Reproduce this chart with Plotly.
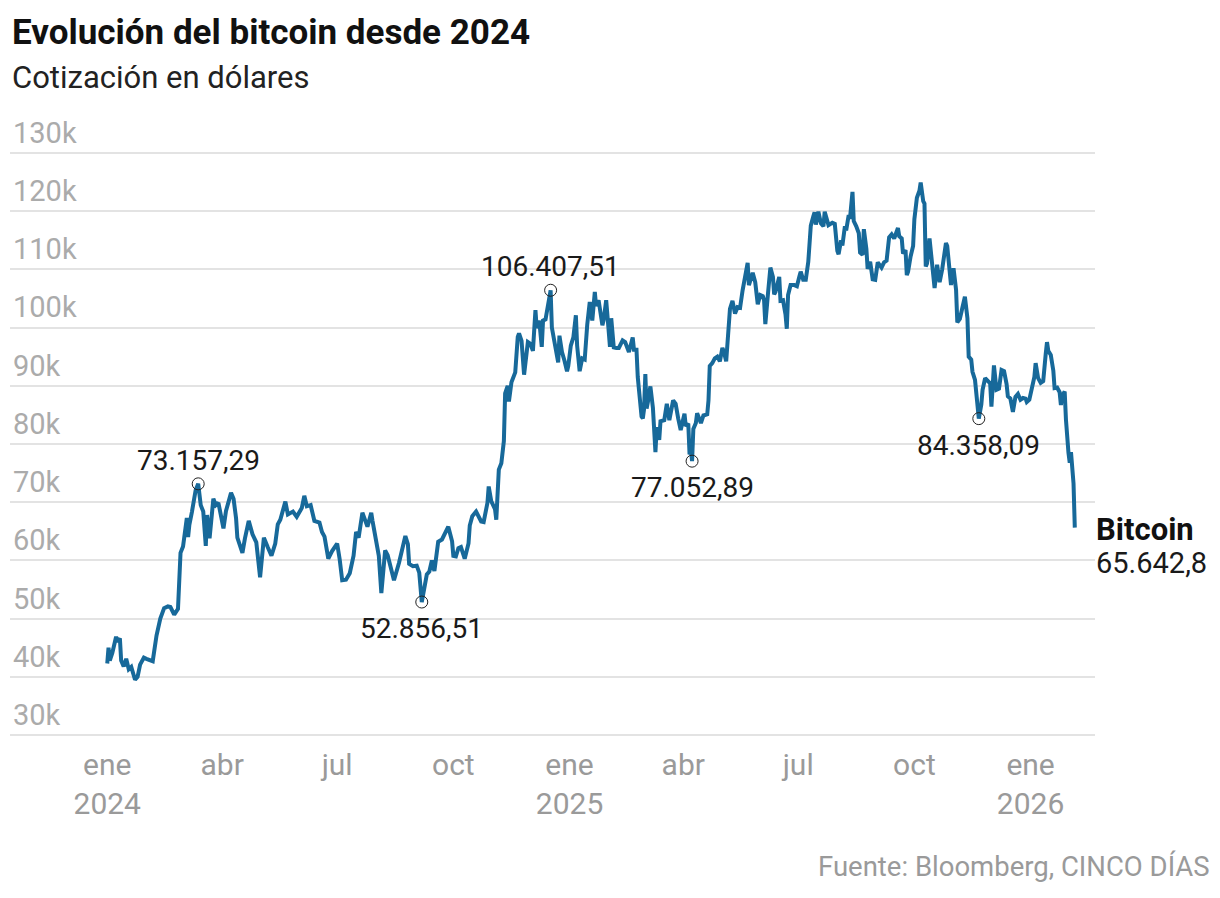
import plotly.graph_objects as go

# Cotización diaria aproximada (miles de dólares)
dates_2024 = [
    "01-01", "01-02", "01-03", "01-05", "01-08", "01-09", "01-11", "01-12", "01-14", "01-16",
    "01-18", "01-20", "01-23", "01-25", "01-27", "01-30", "02-01", "02-03", "02-06", "02-09",
    "02-12", "02-15", "02-18", "02-20", "02-23", "02-26", "02-28", "03-01", "03-04", "03-05",
    "03-06", "03-08", "03-11", "03-13", "03-15", "03-17", "03-19", "03-20", "03-22", "03-25",
    "03-27", "03-29", "04-02", "04-04", "04-08", "04-10", "04-12", "04-13", "04-17", "04-19",
    "04-22", "04-25", "04-28", "05-01", "05-04", "05-07", "05-10", "05-13", "05-15", "05-17",
    "05-21", "05-23", "05-27", "05-30", "06-03", "06-05", "06-07", "06-10", "06-13", "06-17",
    "06-19", "06-21", "06-24", "06-27", "07-01", "07-03", "07-05", "07-08", "07-11", "07-14",
    "07-16", "07-18", "07-21", "07-25", "07-28", "07-29", "07-31", "08-03", "08-05", "08-08",
    "08-10", "08-12", "08-15", "08-19", "08-24", "08-26", "08-27", "08-30", "09-02", "09-04",
    "09-06", "09-10", "09-12", "09-14", "09-16", "09-19", "09-22", "09-27", "09-30", "10-01",
    "10-03", "10-05", "10-07", "10-10", "10-13", "10-14", "10-16", "10-19", "10-21", "10-23",
    "10-25", "10-28", "10-29", "10-31", "11-03", "11-04", "11-06", "11-08", "11-10", "11-11",
    "11-13", "11-14", "11-16", "11-19", "11-21", "11-22", "11-24", "11-26", "11-29", "12-01",
    "12-03", "12-05", "12-06", "12-08", "12-10", "12-11", "12-13", "12-15", "12-17", "12-18",
    "12-20", "12-22", "12-23", "12-24", "12-26", "12-28", "12-30", "12-31",
]
prices_2024 = [
    42.3, 45.0, 42.8, 44.1, 46.9, 46.1, 46.6, 42.8, 41.8, 43.1,
    41.3, 41.7, 39.5, 40.0, 42.1, 43.3, 43.1, 43.0, 42.7, 47.1,
    50.0, 51.8, 52.1, 52.0, 50.7, 51.7, 61.3, 62.4, 67.3, 64.0,
    66.1, 68.3, 72.1, 73.15729, 69.5, 68.4, 62.5, 67.8, 63.8, 70.6,
    69.5, 69.9, 65.5, 68.5, 71.6, 70.6, 67.2, 63.9, 61.3, 63.8,
    66.8, 64.5, 63.1, 57.1, 63.9, 62.3, 60.8, 62.9, 66.2, 67.0,
    70.1, 67.9, 68.4, 67.5, 69.0, 71.1, 69.3, 69.5, 66.8, 66.5,
    64.9, 64.1, 60.3, 61.6, 62.9, 60.2, 56.6, 56.7, 57.8, 60.8,
    64.9, 63.9, 68.2, 65.8, 68.2, 66.8, 64.6, 60.8, 54.4, 61.7,
    60.9, 59.4, 56.6, 59.6, 64.2, 62.8, 59.4, 59.0, 59.1, 57.9,
    52.85651, 57.6, 58.1, 60.0, 58.2, 63.2, 63.6, 65.8, 63.3, 60.8,
    60.7, 62.1, 62.3, 60.3, 62.9, 66.0, 67.6, 68.4, 67.4, 66.7,
    66.6, 69.9, 72.7, 70.2, 68.8, 67.0, 75.6, 76.7, 80.5, 88.7,
    90.0, 87.3, 90.6, 92.3, 98.4, 99.0, 97.7, 91.9, 97.5, 97.2,
    96.0, 103.0, 99.9, 101.2, 96.7, 101.2, 101.4, 104.5, 106.40751, 100.0,
    97.7, 95.2, 94.0, 98.6, 95.8, 94.3, 92.5, 93.4,
]

dates_2025 = [
    "01-02", "01-04", "01-06", "01-07", "01-09", "01-11", "01-13", "01-15", "01-17", "01-19",
    "01-21", "01-22", "01-24", "01-27", "01-28", "01-30", "01-31", "02-02", "02-03", "02-05",
    "02-07", "02-09", "02-12", "02-14", "02-17", "02-20", "02-21", "02-23", "02-24", "02-25",
    "02-27", "02-28", "03-01", "03-02", "03-03", "03-04", "03-06", "03-08", "03-10", "03-11",
    "03-13", "03-14", "03-17", "03-19", "03-21", "03-24", "03-26", "03-28", "03-30", "04-02",
    "04-03", "04-05", "04-06", "04-07", "04-08", "04-09", "04-11", "04-12", "04-15", "04-17",
    "04-20", "04-21", "04-22", "04-24", "04-26", "04-28", "04-30", "05-02", "05-03", "05-05",
    "05-06", "05-08", "05-10", "05-12", "05-14", "05-16", "05-18", "05-21", "05-22", "05-23",
    "05-26", "05-28", "05-30", "06-01", "06-03", "06-04", "06-05", "06-07", "06-09", "06-11",
    "06-12", "06-13", "06-16", "06-17", "06-19", "06-21", "06-22", "06-23", "06-25", "06-28",
    "06-30", "07-02", "07-03", "07-05", "07-07", "07-09", "07-10", "07-11", "07-13", "07-14",
    "07-15", "07-17", "07-19", "07-21", "07-22", "07-24", "07-25", "07-28", "07-30", "08-01",
    "08-02", "08-04", "08-05", "08-07", "08-08", "08-10", "08-11", "08-13", "08-14", "08-16",
    "08-18", "08-19", "08-21", "08-22", "08-24", "08-25", "08-27", "08-29", "08-31", "09-02",
    "09-04", "09-05", "09-07", "09-09", "09-11", "09-13", "09-15", "09-17", "09-18", "09-19",
    "09-21", "09-22", "09-24", "09-25", "09-26", "09-28", "09-30", "10-01", "10-03", "10-05",
    "10-06", "10-08", "10-09", "10-10", "10-11", "10-13", "10-14", "10-16", "10-17", "10-19",
    "10-21", "10-23", "10-26", "10-27", "10-29", "10-30", "11-01", "11-03", "11-04", "11-06",
    "11-08", "11-10", "11-12", "11-13", "11-15", "11-16", "11-18", "11-19", "11-20", "11-21",
    "11-23", "11-24", "11-26", "11-28", "11-30", "12-01", "12-03", "12-05", "12-07", "12-09",
    "12-11", "12-13", "12-14", "12-16", "12-17", "12-18", "12-20", "12-22", "12-24", "12-26",
    "12-28", "12-29", "12-31",
]
prices_2025 = [
    96.9, 98.3, 102.1, 96.9, 92.5, 94.7, 94.5, 100.5, 104.4, 101.2,
    106.1, 103.7, 104.7, 100.4, 101.3, 104.7, 102.4, 96.7, 101.6, 96.6,
    96.5, 96.5, 97.8, 97.5, 95.8, 98.3, 96.2, 96.2, 91.5, 88.7,
    84.7, 84.4, 86.0, 92.0, 86.1, 87.2, 89.9, 86.2, 78.6, 82.9,
    80.7, 83.9, 84.1, 86.9, 84.1, 87.5, 86.9, 84.4, 82.4, 85.2,
    83.1, 83.5, 78.2, 79.2, 77.05289, 82.6, 83.6, 85.3, 83.6, 84.9,
    85.1, 87.5, 93.4, 93.9, 94.7, 95.0, 94.2, 96.5, 96.0, 94.2,
    96.8, 103.2, 104.6, 102.4, 103.5, 103.4, 106.4, 109.6, 111.1, 107.3,
    109.4, 107.8, 104.0, 105.6, 105.4, 104.7, 100.6, 105.6, 110.3, 108.7,
    105.7, 106.1, 108.7, 104.6, 104.7, 102.2, 99.8, 105.6, 107.3, 107.3,
    107.1, 108.8, 109.6, 108.2, 108.2, 111.3, 115.9, 117.5, 119.1, 119.8,
    117.7, 119.9, 117.9, 117.4, 119.9, 118.4, 117.6, 118.0, 117.8, 113.2,
    112.6, 115.0, 114.1, 117.4, 116.7, 119.3, 118.7, 123.3, 118.3, 117.4,
    116.2, 112.9, 112.5, 116.9, 113.5, 110.1, 111.3, 108.3, 108.2, 111.2,
    110.7, 110.3, 111.2, 111.5, 115.5, 116.0, 115.3, 116.8, 117.1, 115.7,
    115.3, 112.7, 113.3, 109.0, 109.6, 112.2, 114.0, 118.6, 122.3, 123.5,
    124.9, 121.7, 121.3, 110.5, 111.0, 115.3, 113.0, 108.2, 106.8, 110.8,
    107.8, 110.0, 114.5, 114.0, 110.0, 107.3, 110.2, 106.5, 100.9, 101.5,
    103.4, 105.3, 101.6, 95.0, 94.5, 92.4, 91.0, 89.0, 86.5, 84.35809,
    86.8, 89.3, 91.3, 90.8, 90.4, 86.4, 93.5, 89.3, 89.5, 92.7,
    92.5, 90.3, 88.2, 87.8, 86.0, 85.5, 88.1, 88.6, 87.6, 87.9,
    87.8, 87.2, 87.6,
]

dates_2026 = [
    "01-02", "01-04", "01-05", "01-07", "01-09", "01-11", "01-13", "01-14", "01-15", "01-17",
    "01-19", "01-20", "01-22", "01-24", "01-25", "01-26", "01-28", "01-29", "01-31", "02-01",
    "02-02", "02-03", "02-04", "02-05",
]
prices_2026 = [
    89.8, 91.5, 93.9, 91.3, 90.5, 90.8, 95.5, 97.5, 96.0, 95.3,
    92.6, 89.6, 89.7, 88.9, 86.7, 88.3, 89.0, 84.2, 78.5, 76.8,
    78.6, 75.8, 73.2, 65.6428,
]

# Puntos destacados
mark_dates = ["2024-03-13", "2024-09-06", "2024-12-17", "2025-04-08", "2025-11-21"]
mark_values = [73157.29, 52856.51, 106407.51, 77052.89, 84358.09]
mark_labels = ["73.157,29", "52.856,51", "106.407,51", "77.052,89", "84.358,09"]
mark_above = [True, False, True, False, False]

y_ticks = [30000, 40000, 50000, 60000, 70000, 80000, 90000, 100000, 110000, 120000, 130000]
y_ticktext = ["30k", "40k", "50k", "60k", "70k", "80k", "90k", "100k", "110k", "120k", "130k"]
x_ticks = ["2024-01-01", "2024-04-01", "2024-07-01", "2024-10-01", "2025-01-01",
           "2025-04-01", "2025-07-01", "2025-10-01", "2026-01-01"]
x_ticktext = ["ene<br>2024", "abr", "jul", "oct", "ene<br>2025", "abr", "jul", "oct", "ene<br>2026"]

dates = (["2024-" + d for d in dates_2024] + ["2025-" + d for d in dates_2025]
         + ["2026-" + d for d in dates_2026])
prices = [v * 1000 for v in prices_2024 + prices_2025 + prices_2026]

FONT = "Roboto"
LINE_COLOR = "#17699a"

fig = go.Figure()
fig.add_trace(go.Scatter(
    x=dates, y=prices, mode="lines",
    line=dict(color=LINE_COLOR, width=4),
    hoverinfo="skip", showlegend=False,
))
fig.add_trace(go.Scatter(
    x=mark_dates, y=mark_values, mode="markers",
    marker=dict(symbol="circle-open", size=12, color="#222222", line=dict(width=1)),
    hoverinfo="skip", showlegend=False,
))

for d, v, label, above in zip(mark_dates, mark_values, mark_labels, mark_above):
    fig.add_annotation(
        x=d, y=v, text=label, showarrow=False,
        yanchor="bottom" if above else "top",
        yshift=5 if above else -8,
        font=dict(family=FONT, size=28, color="#1a1a1a"),
    )

fig.add_annotation(
    x=dates[-1], y=prices[-1], text="<b>Bitcoin</b>", showarrow=False,
    xanchor="left", yanchor="middle", xshift=19, yshift=-2,
    font=dict(family=FONT, size=31, color="#111111", weight=900),
)
fig.add_annotation(
    x=dates[-1], y=prices[-1], text="65.642,8", showarrow=False,
    xanchor="left", yanchor="middle", xshift=19, yshift=-35,
    font=dict(family=FONT, size=29, color="#1a1a1a"),
)

# Título y subtítulo (posiciones en coordenadas del papel)
fig.add_annotation(
    xref="paper", yref="paper", x=0, y=1.199, xanchor="left", yanchor="middle",
    text="<b>Evolución del bitcoin desde 2024</b>", showarrow=False,
    font=dict(family=FONT, size=35, color="#111111", weight=900),
)
fig.add_annotation(
    xref="paper", yref="paper", x=0, y=1.124, xanchor="left", yanchor="middle",
    text="Cotización en dólares", showarrow=False,
    font=dict(family=FONT, size=31, color="#222222"),
)
fig.add_annotation(
    xref="paper", yref="paper", x=1.108, y=-0.218, xanchor="right", yanchor="middle",
    text="Fuente: Bloomberg, CINCO DÍAS", showarrow=False,
    font=dict(family=FONT, size=27.5, color="#9a9a9a"),
)

fig.update_layout(
    width=1212, height=890,
    margin=dict(l=2, r=125, t=142, b=160),
    paper_bgcolor="white", plot_bgcolor="white",
    font=dict(family=FONT),
)
fig.update_xaxes(
    type="date", range=["2023-10-16", "2026-02-21"],
    tickvals=x_ticks, ticktext=x_ticktext, ticks="",
    showgrid=False, showline=False, zeroline=False,
    ticklabelstandoff=6,
    tickfont=dict(family=FONT, size=30, color="#9a9a9a"),
)
fig.update_yaxes(
    range=[29500, 130500], tickvals=y_ticks, ticktext=y_ticktext,
    ticklabelposition="inside top", ticklabeloverflow="allow",
    showgrid=True, gridcolor="#e3e3e3", gridwidth=1.5,
    zeroline=False, showline=False, ticks="",
    tickfont=dict(family=FONT, size=29, color="#ababab"),
)

fig.write_html("out.html")
